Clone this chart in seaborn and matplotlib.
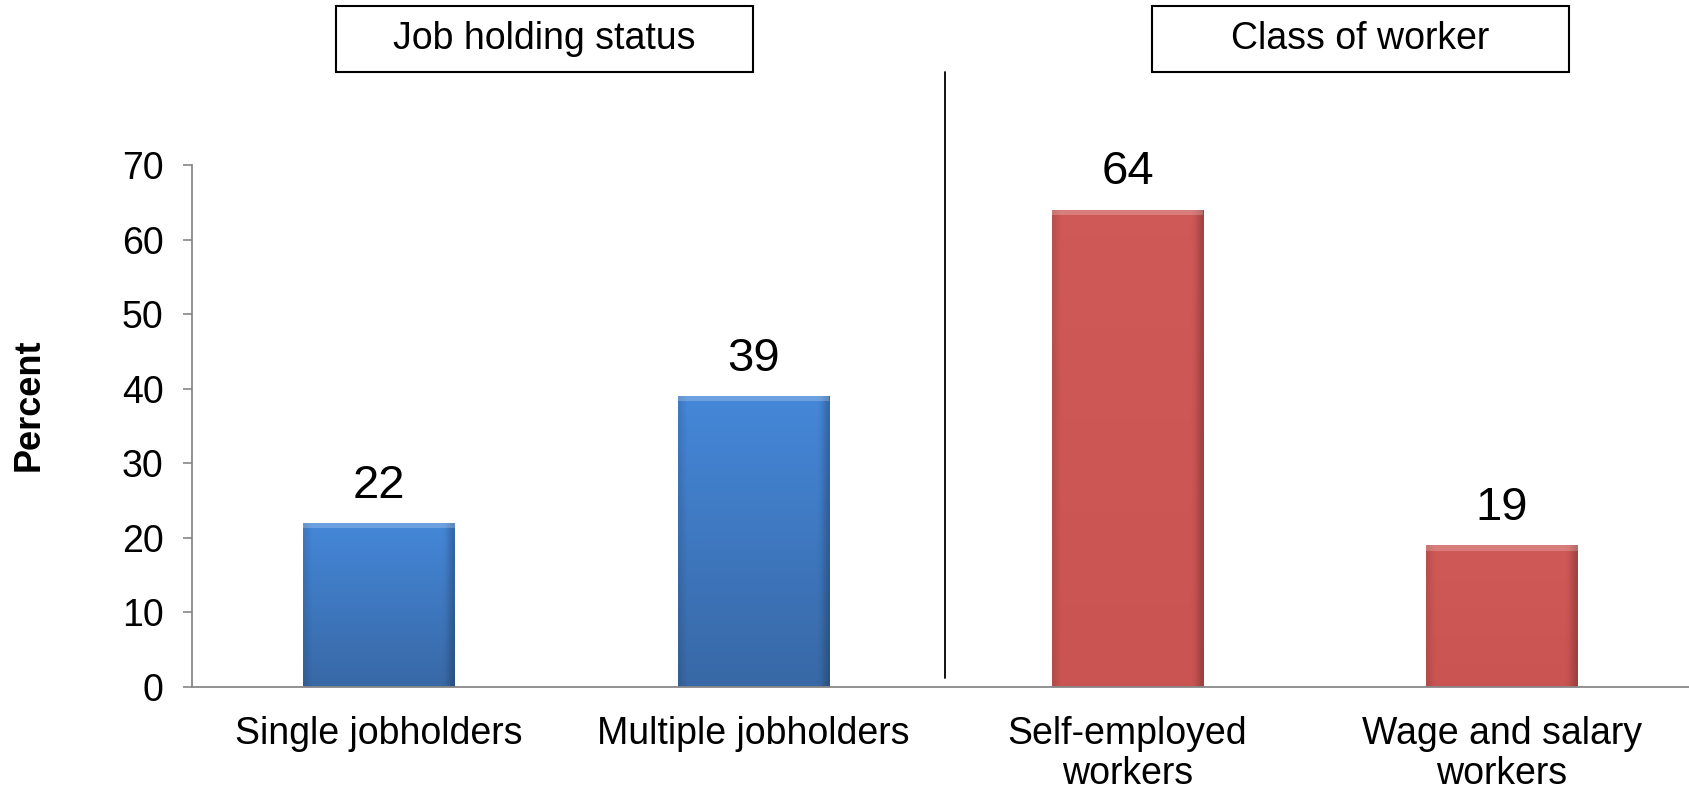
import numpy as np
import pandas as pd
import matplotlib
matplotlib.use("Agg")
import matplotlib.pyplot as plt
import seaborn as sns

categories = ["Single jobholders", "Multiple jobholders", "Self-employed\nworkers", "Wage and salary\nworkers"]
values = [22, 39, 64, 19]
groups = ["Job holding status", "Job holding status", "Class of worker", "Class of worker"]
yticks = [0, 10, 20, 30, 40, 50, 60, 70]

sns.set_theme(style="white")
plt.rcParams['font.family'] = ['Liberation Sans', 'DejaVu Sans']
plt.rcParams['text.color'] = 'black'

W, H = 1689, 791
fig = plt.figure(figsize=(W / 100, H / 100), dpi=100)
ax = fig.add_axes([192 / W, 1 - 687 / H, 1 - 192 / W, (687 - 165) / H])

df = pd.DataFrame({"cat": categories, "val": values, "grp": groups})
palette = {"Job holding status": "#4282d3", "Class of worker": "#cd5856"}
sns.barplot(data=df, x="cat", y="val", hue="grp", palette=palette, dodge=False,
            width=0.405, ax=ax, legend=False, saturation=1)

tops = {"Job holding status": np.array([0.27, 0.53, 0.85]), "Class of worker": np.array([0.81, 0.35, 0.34])}
bots = {"Job holding status": np.array([0.22, 0.41, 0.65]), "Class of worker": np.array([0.79, 0.33, 0.32])}
for p in ax.patches:
    x0, y0 = p.get_x(), p.get_y()
    w, h = p.get_width(), p.get_height()
    if h <= 0:
        continue
    fc = p.get_facecolor()
    grp = "Job holding status" if fc[2] > fc[0] else "Class of worker"
    n = 100
    t = np.linspace(0, 1, n)[:, None]
    col = tops[grp][None, :] * (1 - t) + bots[grp][None, :] * t
    img = np.repeat(col[:, None, :], 40, axis=1)
    xs = np.linspace(0, 1, 40)
    edge = 1 - 0.10 * np.clip(1 - xs / 0.05, 0, 1) - 0.22 * np.clip(1 - (1 - xs) / 0.06, 0, 1)
    img = img * edge[None, :, None]
    im = ax.imshow(np.clip(img, 0, 1), extent=[x0, x0 + w, y0, y0 + h], aspect="auto",
                   origin="upper", zorder=p.get_zorder() + 0.1, interpolation="bilinear")
    im.set_clip_path(p)
    ax.fill_between([x0, x0 + w], y0 + h - 0.7, y0 + h, color="white", alpha=0.22,
                    zorder=p.get_zorder() + 0.2, linewidth=0)
    p.set_edgecolor("none")

ax.set_xlim(-0.5, 3.5)
ax.set_ylim(0, 70)
ax.set_yticks(yticks)
ax.tick_params(axis="y", labelsize=27, colors="#888888", labelcolor="black", length=6.5, width=1.2,
               direction="out", left=True, pad=14)
ax.tick_params(axis="x", labelsize=27, labelcolor="black", length=0, pad=21)
ax.set_xlabel("")
ax.set_ylabel("")
for s in ["top", "right"]:
    ax.spines[s].set_visible(False)
for s in ["left", "bottom"]:
    ax.spines[s].set_color("#888888")
    ax.spines[s].set_linewidth(1.3)
for lbl in ax.get_xticklabels():
    lbl.set_linespacing(1.15)

for i, v in enumerate(values):
    ax.text(i, v + 5.0, f"{v}", ha="center", va="center", fontsize=34, color="black")

fig.text(29 / W, 1 - 405 / H, "Percent", rotation=90, ha="center", va="center",
         fontsize=26, fontweight="bold")

fig.add_artist(plt.Line2D([945 / W, 945 / W], [1 - 72 / H, 1 - 678 / H], color="black", lw=1.3))

for label, (xa, xb) in [("Job holding status", (336, 753)), ("Class of worker", (1152, 1569))]:
    rect = plt.Rectangle((xa / W, 1 - 72 / H), (xb - xa) / W, 66 / H, transform=fig.transFigure,
                         fill=False, edgecolor="black", lw=1.5)
    fig.add_artist(rect)
    fig.text((xa + xb) / 2 / W, 1 - 39 / H, label, ha="center", va="center", fontsize=27)

fig.savefig("out.png", dpi=100)
